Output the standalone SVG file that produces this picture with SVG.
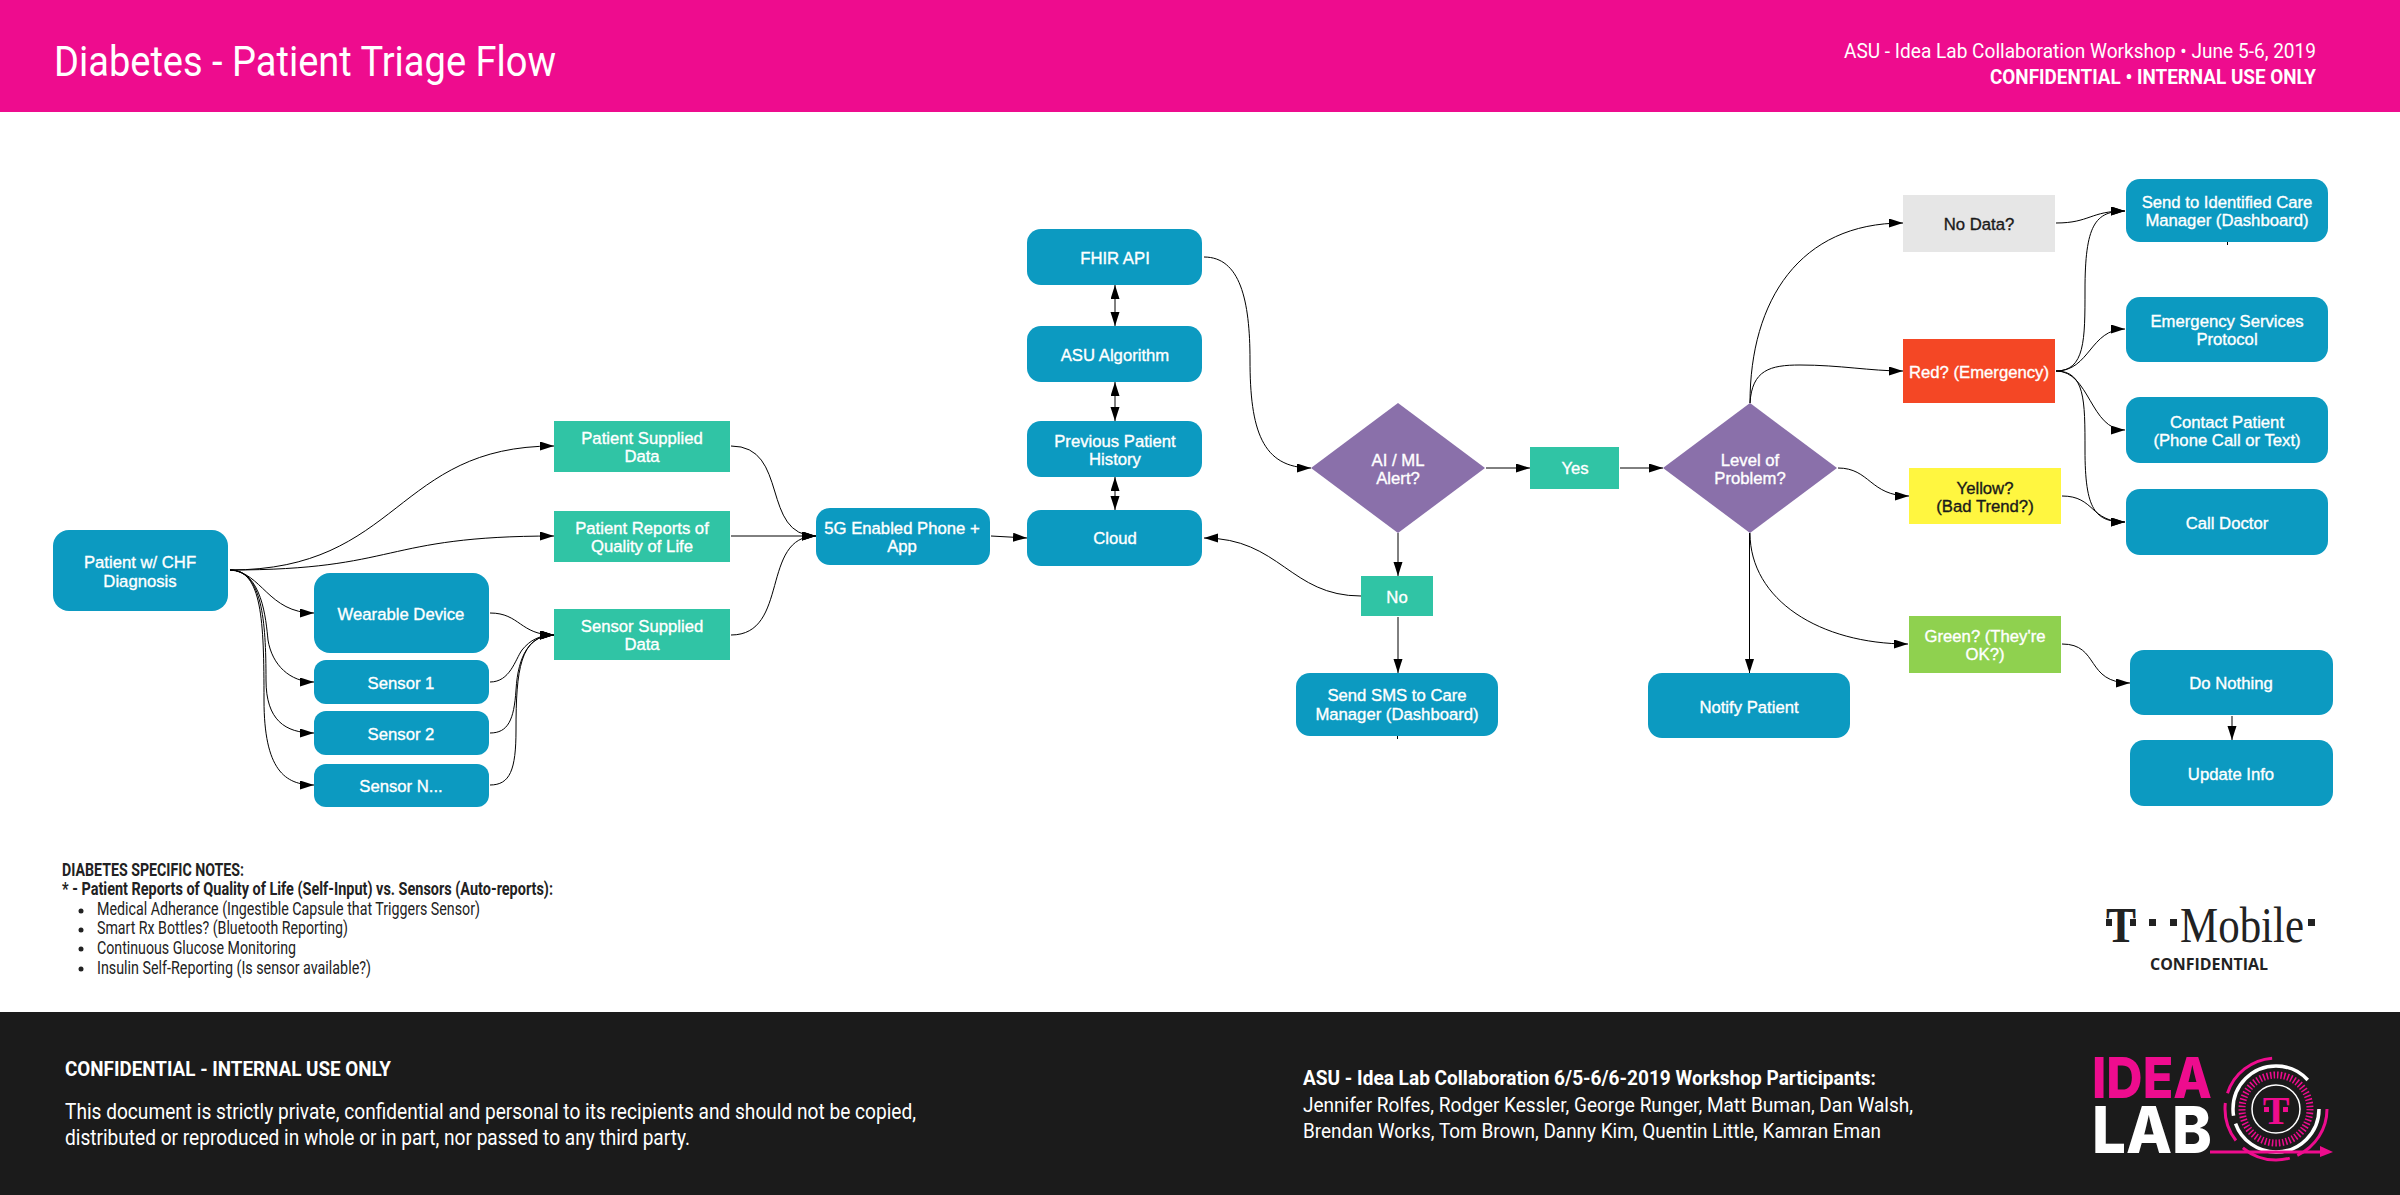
<svg xmlns="http://www.w3.org/2000/svg" width="2400" height="1195" viewBox="0 0 2400 1195">
<defs>
<style>
.n{fill:#0c9ac1}
.t{fill:#30c4a5}
.d{fill:#8a70aa}
.l,.k{font-family:"Liberation Sans",Arial,sans-serif;font-size:16.700px;text-anchor:middle;stroke-width:.35px}
.l{fill:#fff;stroke:#fff}
.k{fill:#1a1a1a;stroke:#1a1a1a}
.r{font-family:Roboto,"Liberation Sans",sans-serif;font-size:18px;fill:#222}
.w{font-family:Roboto,"Liberation Sans",sans-serif;fill:#fff}
.s{font-family:"Liberation Serif",serif}
.o{font-family:"Open Sans",sans-serif}
.i{font-family:Inter,sans-serif;font-weight:800}
#connectors path,#connectors line{fill:none;stroke:#000;stroke-width:1;marker-end:url(#a)}
#connectors .b{marker-start:url(#a)}
#connectors .p{marker-end:none}
</style>
<marker id="a" markerUnits="userSpaceOnUse" markerWidth="15" markerHeight="10" refX="14" refY="4.5" orient="auto-start-reverse"><path d="M0,0L14,4.5L0,9z" fill="#000"/></marker>
</defs>
<rect width="2400" height="1195" fill="#fff"/>
<g id="header">
<rect width="2400" height="112" fill="#ee0c8e"/>
<text class="w" x="54" y="76" font-size="42" textLength="502" lengthAdjust="spacingAndGlyphs">Diabetes - Patient Triage Flow</text>
<text class="w" x="1844" y="58" font-size="21" textLength="472" lengthAdjust="spacingAndGlyphs">ASU - Idea Lab Collaboration Workshop • June 5-6, 2019</text>
<text class="w" x="1990" y="84" font-size="21" font-weight="700" textLength="326" lengthAdjust="spacingAndGlyphs">CONFIDENTIAL • INTERNAL USE ONLY</text>
</g>
<g id="connectors">
<path d="M230,570C400,570 395,446 554,446"/>
<path d="M230,570C400,570 380,536 554,536"/>
<path d="M230,570C262,572 268,613 314,613"/>
<path d="M230,570C262,570 266,620 268,640C272,665 290,682 314,682"/>
<path d="M230,570C262,570 266,620 266,680C266,720 285,733 314,733"/>
<path d="M230,570C262,570 264,620 264,700C264,770 285,785 314,785"/>
<path d="M490,613C520,613 520,635 554,635"/>
<path d="M490,682C510,682 515,660 522,650C530,640 540,635 554,635"/>
<path d="M490,733C508,733 514,720 516,690C518,655 530,635 554,635"/>
<path d="M490,785C510,785 516,770 516,730C516,670 520,635 554,635"/>
<path d="M731,446C790,446 760,536 816,536"/>
<path d="M731,536L816,536"/>
<path d="M731,635C790,635 760,536 816,536"/>
<path d="M991,536L1027,538"/>
<line class="b" x1="1115" y1="285" x2="1115" y2="326"/>
<line class="b" x1="1115" y1="382" x2="1115" y2="421"/>
<line class="b" x1="1115" y1="477" x2="1115" y2="510"/>
<path d="M1204,257C1240,257 1250,300 1250,360C1250,430 1262,468 1311,468"/>
<path d="M1486,468L1530,468"/>
<path d="M1620,468L1663,468"/>
<path d="M1398,533L1398,576"/>
<path d="M1398,617L1398,673"/>
<path d="M1361,596C1290,596 1280,538 1204,538"/>
<path class="p" d="M1397.500,736L1397.500,739"/>
<path d="M1750,403C1750,300 1800,223 1903,223"/>
<path d="M1750,403C1752,370 1770,365 1800,365C1840,365 1870,371 1903,371"/>
<path d="M1838,468C1870,468 1870,496 1909,496"/>
<path d="M1749.500,533L1749.500,673"/>
<path d="M1750,533C1750,600 1820,644 1908,644"/>
<path d="M2062,644C2100,644 2085,683 2130,683"/>
<path d="M2232,716L2232,740"/>
<path d="M2056,223C2090,223 2090,211 2125,211"/>
<path d="M2056,371C2085,371 2085,340 2085,290C2085,225 2095,211 2125,211"/>
<path d="M2056,371C2090,371 2090,329 2125,329"/>
<path d="M2056,371C2090,371 2090,430 2125,430"/>
<path d="M2056,371C2085,371 2085,400 2085,450C2085,510 2095,522 2125,522"/>
<path d="M2062,496C2095,496 2090,522 2125,522"/>
<path class="p" d="M2227.500,242L2227.500,245"/>
</g>
<g id="patient"><rect class="n" x="53" y="530" width="175" height="81" rx="16"/><text class="l" x="140" y="568">Patient w/ CHF</text><text class="l" x="140" y="587">Diagnosis</text></g>
<g id="wearable"><rect class="n" x="314" y="573" width="175" height="80" rx="16"/><text class="l" x="401" y="620">Wearable Device</text></g>
<g id="sensor1"><rect class="n" x="314" y="660" width="175" height="44" rx="12"/><text class="l" x="401" y="689">Sensor 1</text></g>
<g id="sensor2"><rect class="n" x="314" y="711" width="175" height="44" rx="12"/><text class="l" x="401" y="740">Sensor 2</text></g>
<g id="sensorN"><rect class="n" x="314" y="764" width="175" height="43" rx="12"/><text class="l" x="401" y="792">Sensor N...</text></g>
<g id="patient-data"><rect class="t" x="554" y="421" width="176" height="51"/><text class="l" x="642" y="444">Patient Supplied</text><text class="l" x="642" y="462">Data</text></g>
<g id="quality"><rect class="t" x="554" y="511" width="176" height="51"/><text class="l" x="642" y="534">Patient Reports of</text><text class="l" x="642" y="552">Quality of Life</text></g>
<g id="sensor-data"><rect class="t" x="554" y="609" width="176" height="51"/><text class="l" x="642" y="632">Sensor Supplied</text><text class="l" x="642" y="650">Data</text></g>
<g id="phone"><rect class="n" x="816" y="508" width="174" height="57" rx="14"/><text class="l" x="902" y="534">5G Enabled Phone +</text><text class="l" x="902" y="552">App</text></g>
<g id="cloud"><rect class="n" x="1027" y="510" width="175" height="56" rx="14"/><text class="l" x="1115" y="544">Cloud</text></g>
<g id="history"><rect class="n" x="1027" y="421" width="175" height="56" rx="14"/><text class="l" x="1115" y="447">Previous Patient</text><text class="l" x="1115" y="465">History</text></g>
<g id="algorithm"><rect class="n" x="1027" y="326" width="175" height="56" rx="14"/><text class="l" x="1115" y="361">ASU Algorithm</text></g>
<g id="fhir"><rect class="n" x="1027" y="229" width="175" height="56" rx="14"/><text class="l" x="1115" y="264">FHIR API</text></g>
<g id="ai"><path class="d" d="M1398,403L1485,468L1398,533L1311,468z"/><text class="l" x="1398" y="466">AI / ML</text><text class="l" x="1398" y="484">Alert?</text></g>
<g id="yes"><rect class="t" x="1530" y="447" width="89" height="42"/><text class="l" x="1575" y="474">Yes</text></g>
<g id="no"><rect class="t" x="1361" y="576" width="72" height="40"/><text class="l" x="1397" y="603">No</text></g>
<g id="sms"><rect class="n" x="1296" y="673" width="202" height="63" rx="14"/><text class="l" x="1397" y="701">Send SMS to Care</text><text class="l" x="1397" y="720">Manager (Dashboard)</text></g>
<g id="level"><path class="d" d="M1750,403L1837,468L1750,533L1663,468z"/><text class="l" x="1750" y="466">Level of</text><text class="l" x="1750" y="484">Problem?</text></g>
<g id="nodata"><rect fill="#e6e6e6" x="1903" y="195" width="152" height="57"/><text class="k" x="1979" y="230">No Data?</text></g>
<g id="red"><rect fill="#f44725" x="1903" y="339" width="152" height="64"/><text class="l" x="1979" y="378">Red? (Emergency)</text></g>
<g id="yellow"><rect fill="#fff640" x="1909" y="468" width="152" height="56"/><text class="k" x="1985" y="494">Yellow?</text><text class="k" x="1985" y="512">(Bad Trend?)</text></g>
<g id="green"><rect fill="#8fd14f" x="1909" y="616" width="152" height="57"/><text class="l" x="1985" y="642">Green? (They're</text><text class="l" x="1985" y="660">OK?)</text></g>
<g id="notify"><rect class="n" x="1648" y="673" width="202" height="65" rx="14"/><text class="l" x="1749" y="713">Notify Patient</text></g>
<g id="send"><rect class="n" x="2126" y="179" width="202" height="63" rx="14"/><text class="l" x="2227" y="208">Send to Identified Care</text><text class="l" x="2227" y="226">Manager (Dashboard)</text></g>
<g id="emergency"><rect class="n" x="2126" y="297" width="202" height="65" rx="14"/><text class="l" x="2227" y="327">Emergency Services</text><text class="l" x="2227" y="345">Protocol</text></g>
<g id="contact"><rect class="n" x="2126" y="397" width="202" height="66" rx="14"/><text class="l" x="2227" y="428">Contact Patient</text><text class="l" x="2227" y="446">(Phone Call or Text)</text></g>
<g id="doctor"><rect class="n" x="2126" y="489" width="202" height="66" rx="14"/><text class="l" x="2227" y="529">Call Doctor</text></g>
<g id="nothing"><rect class="n" x="2130" y="650" width="203" height="65" rx="14"/><text class="l" x="2231" y="689">Do Nothing</text></g>
<g id="update"><rect class="n" x="2130" y="740" width="203" height="66" rx="14"/><text class="l" x="2231" y="780">Update Info</text></g>
<g id="notes">
<text class="r" x="62" y="876" font-weight="700" textLength="182" lengthAdjust="spacingAndGlyphs">DIABETES SPECIFIC NOTES:</text>
<text class="r" x="62" y="895" font-weight="700" textLength="491" lengthAdjust="spacingAndGlyphs">* - Patient Reports of Quality of Life (Self-Input) vs. Sensors (Auto-reports):</text>
<circle cx="81" cy="911" r="2.500" fill="#222"/><text class="r" x="97" y="915" textLength="383" lengthAdjust="spacingAndGlyphs">Medical Adherance (Ingestible Capsule that Triggers Sensor)</text>
<circle cx="81" cy="930" r="2.500" fill="#222"/><text class="r" x="97" y="934" textLength="251" lengthAdjust="spacingAndGlyphs">Smart Rx Bottles? (Bluetooth Reporting)</text>
<circle cx="81" cy="949" r="2.500" fill="#222"/><text class="r" x="97" y="954" textLength="199" lengthAdjust="spacingAndGlyphs">Continuous Glucose Monitoring</text>
<circle cx="81" cy="969" r="2.500" fill="#222"/><text class="r" x="97" y="974" textLength="274" lengthAdjust="spacingAndGlyphs">Insulin Self-Reporting (Is sensor available?)</text>
</g>
<g id="tmobile">
<text class="s" x="2106" y="942" font-size="50" font-weight="700" fill="#222" textLength="30" lengthAdjust="spacingAndGlyphs">T</text>
<g fill="#222"><rect x="2106" y="919" width="6" height="7"/><rect x="2130" y="919" width="6" height="7"/><rect x="2149" y="919" width="7" height="7"/><rect x="2170" y="919" width="7" height="7"/><rect x="2308" y="919" width="7" height="7"/></g>
<text class="s" x="2180" y="942" font-size="50" fill="#222" textLength="124" lengthAdjust="spacingAndGlyphs">Mobile</text>
<text class="o" x="2150" y="970" font-size="16" font-weight="700" fill="#222" textLength="118" lengthAdjust="spacingAndGlyphs">CONFIDENTIAL</text>
</g>
<g id="footer">
<rect y="1012" width="2400" height="183" fill="#1b1b1b"/>
<text class="w" x="65" y="1076" font-size="21" font-weight="700" textLength="326" lengthAdjust="spacingAndGlyphs">CONFIDENTIAL - INTERNAL USE ONLY</text>
<text class="w" x="65" y="1119" font-size="22" textLength="851" lengthAdjust="spacingAndGlyphs">This document is strictly private, confidential and personal to its recipients and should not be copied,</text>
<text class="w" x="65" y="1145" font-size="22" textLength="625" lengthAdjust="spacingAndGlyphs">distributed or reproduced in whole or in part, nor passed to any third party.</text>
<text class="w" x="1303" y="1085" font-size="21" font-weight="700" textLength="573" lengthAdjust="spacingAndGlyphs">ASU - Idea Lab Collaboration 6/5-6/6-2019 Workshop Participants:</text>
<text class="w" x="1303" y="1112" font-size="21" textLength="610" lengthAdjust="spacingAndGlyphs">Jennifer Rolfes, Rodger Kessler, George Runger, Matt Buman, Dan Walsh,</text>
<text class="w" x="1303" y="1138" font-size="21" textLength="578" lengthAdjust="spacingAndGlyphs">Brendan Works, Tom Brown, Danny Kim, Quentin Little, Kamran Eman</text>
</g>
<g id="idealab">
<text class="i" x="2092" y="1098" font-size="57" fill="#ee0c8e" textLength="120" lengthAdjust="spacingAndGlyphs">IDEA</text>
<text class="i" x="2092" y="1153" font-size="65" fill="#fff" textLength="120" lengthAdjust="spacingAndGlyphs">LAB</text>
<g fill="none">
<circle cx="2276" cy="1109" r="51" stroke="#ee0c8e" stroke-width="3" stroke-dasharray="58 8 50 10 40 10 60 85"/>
<circle cx="2276" cy="1109" r="34" stroke="#ee0c8e" stroke-width="7" stroke-dasharray="1.500 2"/>
<circle cx="2276" cy="1109" r="43" stroke="#fff" stroke-width="3.500" stroke-dasharray="120 8 110 32"/>
<circle cx="2276" cy="1109" r="24" stroke="#fff" stroke-width="1.500"/>
</g>
<path d="M2210,1152L2324,1152" stroke="#ee0c8e" stroke-width="3"/>
<path d="M2320,1146L2333,1152L2320,1157z" fill="#ee0c8e"/>
<text class="s" x="2276" y="1124" font-size="40" font-weight="700" fill="#ee0c8e" text-anchor="middle">T</text>
<rect x="2264" y="1107" width="5" height="5" fill="#ee0c8e"/><rect x="2283" y="1107" width="5" height="5" fill="#ee0c8e"/>
</g>
</svg>
